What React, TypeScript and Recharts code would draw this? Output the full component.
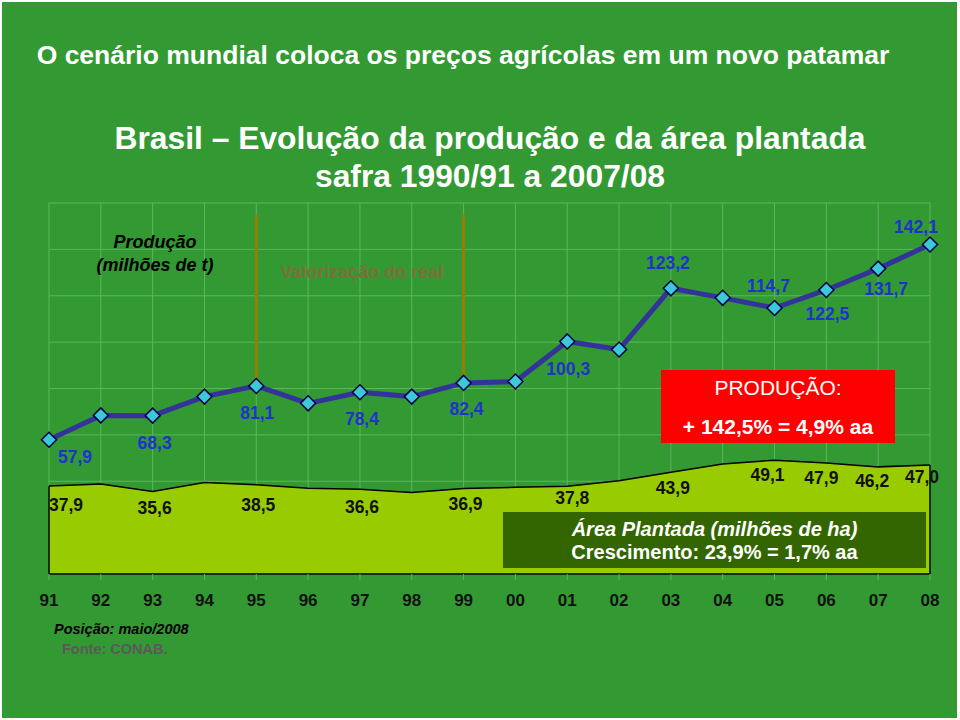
import { ComposedChart, Line, Area, XAxis, YAxis, CartesianGrid, ReferenceLine, LabelList } from 'recharts';

const years = ['91', '92', '93', '94', '95', '96', '97', '98', '99', '00', '01', '02', '03', '04', '05', '06', '07', '08'];
const producao = [57.9, 68.4, 68.3, 76.5, 81.1, 73.6, 78.4, 76.5, 82.4, 83.0, 100.3, 96.8, 123.2, 119.1, 114.7, 122.5, 131.7, 142.1];
const areaPlantada = [37.9, 38.8, 35.6, 39.5, 38.5, 37.0, 36.6, 35.1, 36.9, 37.4, 37.8, 40.2, 43.9, 47.4, 49.1, 47.9, 46.2, 47.0];
const yTicks = [0, 20, 40, 60, 80, 100, 120, 140, 160];
const realMarks = ['95', '99'];

const data = years.map((year, i) => ({ year, prod: producao[i], area: areaPlantada[i] }));

// label placement (index -> [dx, dy]) relative to the point
const prodLabelPos: Record<number, [number, number]> = {
  0: [26, 17], 2: [2, 27], 4: [1, 27], 6: [2, 27], 8: [3, 26], 10: [1, 28],
  12: [-3, -25], 14: [-6, -22], 15: [1, 24], 16: [8, 20], 17: [-14, -18],
};
const areaLabelPos: Record<number, [number, number]> = {
  0: [17, 19], 2: [2, 17], 4: [2, 20], 6: [2, 18], 8: [2, 16], 10: [5, 12],
  12: [2, 16], 14: [-7, 15], 15: [-5, 15], 16: [-6, 14], 17: [-8, 12],
};

const FONT = '"Liberation Sans", Arial, sans-serif';
const fmt = (v: number) => v.toFixed(1).replace('.', ',');

const Diamond = (props: any) => {
  const { cx, cy } = props;
  if (cx == null || cy == null) return null;
  const r = 7.5;
  return (
    <polygon
      points={`${cx},${cy - r} ${cx + r},${cy} ${cx},${cy + r} ${cx - r},${cy}`}
      fill="#3cc8d8"
      stroke="#000044"
      strokeWidth={1.5}
    />
  );
};

const makeLabel = (pos: Record<number, [number, number]>, color: string) => (props: any) => {
  const { x, y, value, index } = props;
  const p = pos[index];
  if (!p) return null;
  return (
    <text
      x={x + p[0]}
      y={y + p[1]}
      textAnchor="middle"
      dominantBaseline="central"
      fill={color}
      fontFamily={FONT}
      fontWeight="bold"
      fontSize={17.5}
    >
      {fmt(value)}
    </text>
  );
};

export default function App() {
  const abs = (extra: React.CSSProperties): React.CSSProperties => ({ position: 'absolute', fontFamily: FONT, ...extra });

  return (
    <div style={{ position: 'absolute', left: 0, top: 0, width: 960, height: 720, background: '#ffffff', overflow: 'hidden' }}>
      <div style={{ position: 'absolute', left: 2, top: 2, width: 955, height: 716, background: '#339933' }} />

      <div style={{ position: 'absolute', left: 0, top: 0 }}>
        <ComposedChart width={960} height={720} data={data} margin={{ top: 203, left: 49, right: 30, bottom: 116 }}>
          <CartesianGrid stroke="#5cb65c" strokeWidth={1} />
          <YAxis hide domain={[0, 160]} ticks={yTicks} />
          <XAxis
            dataKey="year"
            interval={0}
            height={30}
            tickSize={6}
            tickMargin={14}
            axisLine={{ stroke: '#000', strokeWidth: 1.5 }}
            tickLine={{ stroke: '#5cb65c' }}
            tick={{ fill: '#111', fontFamily: FONT, fontWeight: 'bold', fontSize: 17 }}
          />
          <Area
            type="linear"
            dataKey="area"
            fill="#99cc00"
            fillOpacity={1}
            stroke="#000"
            strokeWidth={1.5}
            isAnimationActive={false}
          >
            <LabelList dataKey="area" content={makeLabel(areaLabelPos, '#111')} />
          </Area>
          <ReferenceLine segment={[{ x: years[0], y: 0 }, { x: years[0], y: areaPlantada[0] }]} stroke="#000" strokeWidth={1.5} />
          <ReferenceLine
            segment={[{ x: years[years.length - 1], y: 0 }, { x: years[years.length - 1], y: areaPlantada[areaPlantada.length - 1] }]}
            stroke="#000"
            strokeWidth={1.5}
          />
          {realMarks.map((yr) => (
            <ReferenceLine
              key={yr}
              segment={[{ x: yr, y: producao[years.indexOf(yr)] + 3 }, { x: yr, y: 155 }]}
              stroke="#9a7d00"
              strokeWidth={3}
            />
          ))}
          <Line
            type="linear"
            dataKey="prod"
            stroke="#333399"
            strokeWidth={5}
            dot={<Diamond />}
            activeDot={false}
            isAnimationActive={false}
          >
            <LabelList dataKey="prod" content={makeLabel(prodLabelPos, '#1f33cc')} />
          </Line>
        </ComposedChart>
      </div>

      <div style={abs({ left: -17, width: 960, top: 39, textAlign: 'center', color: '#fff', fontWeight: 'bold', fontSize: 26.5, lineHeight: '32px' })}>
        O cenário mundial coloca os preços agrícolas em um novo patamar
      </div>
      <div style={abs({ left: 0, width: 980, top: 119, textAlign: 'center', color: '#fff', fontWeight: 'bold', fontSize: 31.8, lineHeight: '38px' })}>
        Brasil – Evolução da produção e da área plantada
        <br />
        safra 1990/91 a 2007/08
      </div>

      <div style={abs({ left: 55, width: 200, top: 231, textAlign: 'center', color: '#000', fontWeight: 'bold', fontStyle: 'italic', fontSize: 18, lineHeight: '23px' })}>
        Produção
        <br />
        (milhões de t)
      </div>
      <div style={abs({ left: 262, width: 200, top: 261, textAlign: 'center', color: '#7d6f3a', fontWeight: 'bold', fontSize: 18, lineHeight: '22px' })}>
        Valorização do real
      </div>

      <div style={abs({ left: 661, top: 370, width: 234, height: 73, background: '#ff0000', color: '#fff', textAlign: 'center', fontSize: 21 })}>
        <div style={{ position: 'absolute', left: 0, width: 234, top: 5, lineHeight: '26px' }}>PRODUÇÃO:</div>
        <div style={{ position: 'absolute', left: 0, width: 234, top: 44, lineHeight: '26px', fontWeight: 'bold' }}>+ 142,5% = 4,9% aa</div>
      </div>

      <div style={abs({ left: 503, top: 512, width: 423, height: 56, background: '#336600', color: '#fff', textAlign: 'center', fontSize: 20, fontWeight: 'bold' })}>
        <div style={{ position: 'absolute', left: 0, width: 423, top: 6, lineHeight: '23px', fontStyle: 'italic' }}>Área Plantada (milhões de ha)</div>
        <div style={{ position: 'absolute', left: 0, width: 423, top: 29, lineHeight: '23px' }}>Crescimento: 23,9% = 1,7% aa</div>
      </div>

      <div style={abs({ left: 54, top: 620, color: '#000', fontWeight: 'bold', fontStyle: 'italic', fontSize: 14.5, lineHeight: '18px' })}>
        Posição: maio/2008
      </div>
      <div style={abs({ left: 62, top: 640, color: '#5a5a5a', fontWeight: 'bold', fontSize: 14.5, lineHeight: '18px' })}>
        Fonte: CONAB.
      </div>
    </div>
  );
}
